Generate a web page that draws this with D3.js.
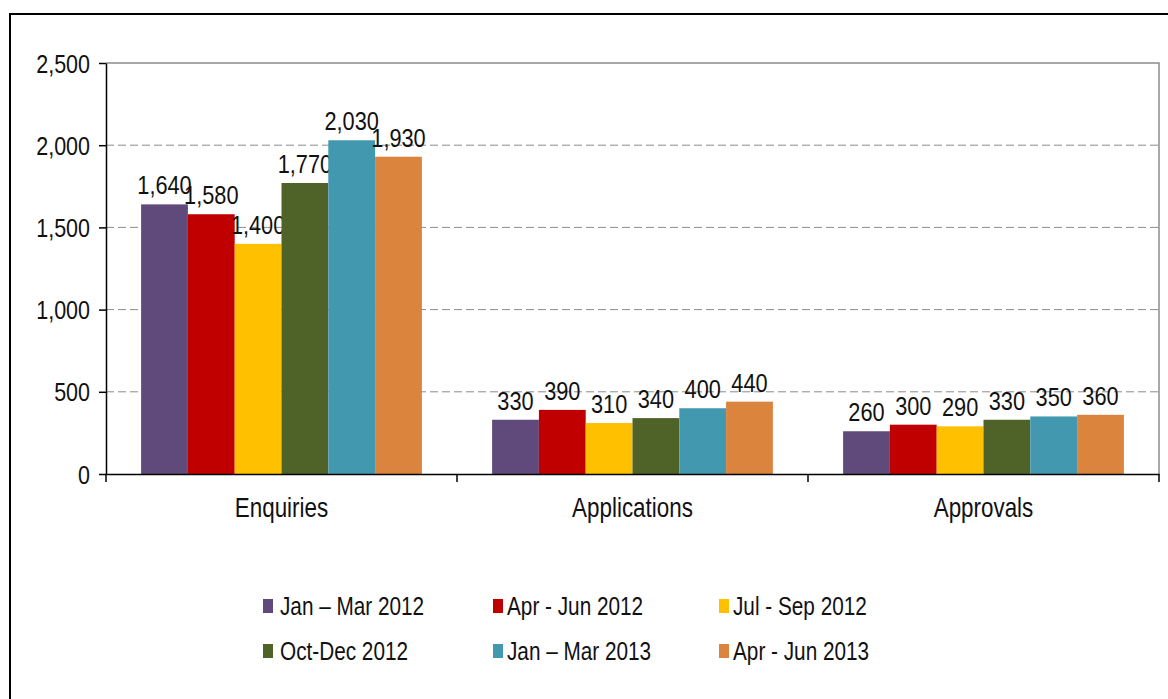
<!DOCTYPE html>
<meta charset="utf-8">
<style>
  body { margin: 0; background: #fff; }
  text { font-family: "Liberation Sans", Arial, sans-serif; fill: #111; }
  .grid line { stroke: #8c8c8c; stroke-dasharray: 8,4; }
</style>
<body>
<script src="https://d3js.org/d3.v7.min.js"></script>
<script>
var categories = ["Enquiries", "Applications", "Approvals"];
var series = ["Jan – Mar 2012", "Apr - Jun 2012", "Jul - Sep 2012", "Oct-Dec 2012", "Jan – Mar 2013", "Apr - Jun 2013"];
var janMar2012 = [1640, 330, 260];
var aprJun2012 = [1580, 390, 300];
var julSep2012 = [1400, 310, 290];
var octDec2012 = [1770, 340, 330];
var janMar2013 = [2030, 400, 350];
var aprJun2013 = [1930, 440, 360];
var yTicks = [0, 500, 1000, 1500, 2000, 2500];
var colors = ["#604a7b", "#c00000", "#ffc000", "#4f6228", "#4198af", "#db843d"];

var values = [janMar2012, aprJun2012, julSep2012, octDec2012, janMar2013, aprJun2013];

var margin = {top: 63, right: 9, bottom: 225, left: 106},
    width = 1168 - margin.left - margin.right,
    height = 699 - margin.top - margin.bottom;

// squeeze text horizontally, like a narrow font
function narrow(sel, sx) {
  sel.each(function() {
    var t = d3.select(this);
    var tx = +t.attr("x") || 0, ty = +t.attr("y") || 0;
    t.attr("x", 0).attr("y", 0)
     .attr("transform", "translate(" + tx + "," + ty + ") scale(" + sx + ",1)");
  });
}

var svg = d3.select("body").append("svg")
    .attr("width", 1168)
    .attr("height", 699);

// outer frame
svg.append("path")
    .attr("d", "M10,700 V14 H1170")
    .attr("fill", "none")
    .attr("stroke", "#000")
    .attr("stroke-width", 2);

var g = svg.append("g")
    .attr("transform", "translate(" + margin.left + "," + margin.top + ")");

var x0 = d3.scaleBand()
    .domain(categories)
    .range([0, width]);

var x1 = d3.scaleBand()
    .domain(series)
    .range([x0.bandwidth() * 0.1, x0.bandwidth() * 0.9]);

var y = d3.scaleLinear()
    .domain([0, 2500])
    .range([height, 0]);

// gridlines
g.append("g")
    .attr("class", "grid")
    .selectAll("line")
    .data(yTicks.filter(function(d) { return d > 0 && d < 2500; }))
    .enter().append("line")
    .attr("x1", 0)
    .attr("x2", width)
    .attr("y1", function(d) { return y(d); })
    .attr("y2", function(d) { return y(d); });

// plot area border top/right
g.append("path")
    .attr("d", "M0," + y(2500) + " H" + width + " V" + height)
    .attr("fill", "none")
    .attr("stroke", "#8c8c8c")
    .attr("stroke-width", 1.5);

// bars
var groups = g.selectAll(".series")
    .data(series)
    .enter().append("g")
    .attr("class", "series")
    .attr("fill", function(d, i) { return colors[i]; });

groups.selectAll("rect")
    .data(function(d, i) { return categories.map(function(c, j) { return {s: d, c: c, v: values[i][j]}; }); })
    .enter().append("rect")
    .attr("x", function(d) { return x0(d.c) + x1(d.s); })
    .attr("y", function(d) { return y(d.v); })
    .attr("width", x1.bandwidth())
    .attr("height", function(d) { return height - y(d.v); });

// value labels
var labels = groups.selectAll(".lbl")
    .data(function(d, i) { return categories.map(function(c, j) { return {s: d, c: c, v: values[i][j]}; }); })
    .enter().append("text")
    .attr("class", "lbl")
    .attr("x", function(d) { return x0(d.c) + x1(d.s) + x1.bandwidth() / 2; })
    .attr("y", function(d) { return y(d.v) - 10; })
    .attr("text-anchor", "middle")
    .style("font-size", "25px")
    .style("fill", "#111")
    .text(function(d) { return d3.format(",")(d.v); });
narrow(labels, 0.87);

// y axis
var yAxis = g.append("g")
    .call(d3.axisLeft(y).tickValues(yTicks).tickFormat(d3.format(",")).tickSize(7).tickSizeOuter(0).tickPadding(9));
yAxis.selectAll("text").style("font-size", "25px").attr("dy", "0.36em");
narrow(yAxis.selectAll("text"), 0.86);
yAxis.select(".domain").attr("stroke", "#000").attr("stroke-width", 1.5);
yAxis.selectAll(".tick line").attr("stroke", "#000").attr("stroke-width", 1.5);

// x axis
var xAxis = g.append("g")
    .attr("transform", "translate(0," + height + ")")
    .call(d3.axisBottom(x0).tickSize(0).tickPadding(24));
xAxis.select(".domain").attr("stroke", "#000").attr("stroke-width", 1.5);
xAxis.selectAll("text").style("font-size", "27px");
narrow(xAxis.selectAll("text"), 0.83);
xAxis.selectAll(".bound")
    .data([0].concat(categories.map(function(c) { return x0(c) + x0.bandwidth(); })))
    .enter().append("line")
    .attr("x1", function(d) { return d; })
    .attr("x2", function(d) { return d; })
    .attr("y1", 0)
    .attr("y2", 8)
    .attr("stroke", "#000")
    .attr("stroke-width", 1.5);

// legend
var legendX = [263, 493, 719];
var legendY = [606, 651];
var legend = svg.selectAll(".legend")
    .data(series)
    .enter().append("g")
    .attr("class", "legend")
    .attr("transform", function(d, i) { return "translate(" + legendX[i % 3] + "," + legendY[Math.floor(i / 3)] + ")"; });
legend.append("rect")
    .attr("x", 0)
    .attr("y", -7)
    .attr("width", 10)
    .attr("height", 14)
    .attr("fill", function(d, i) { return colors[i]; });
var legendText = legend.append("text")
    .attr("x", function(d, i) { return i % 3 === 0 ? 17 : 14; })
    .attr("dy", "0.36em")
    .style("font-size", "25px")
    .text(function(d) { return d; });
narrow(legendText, 0.83);
</script>
</body>
